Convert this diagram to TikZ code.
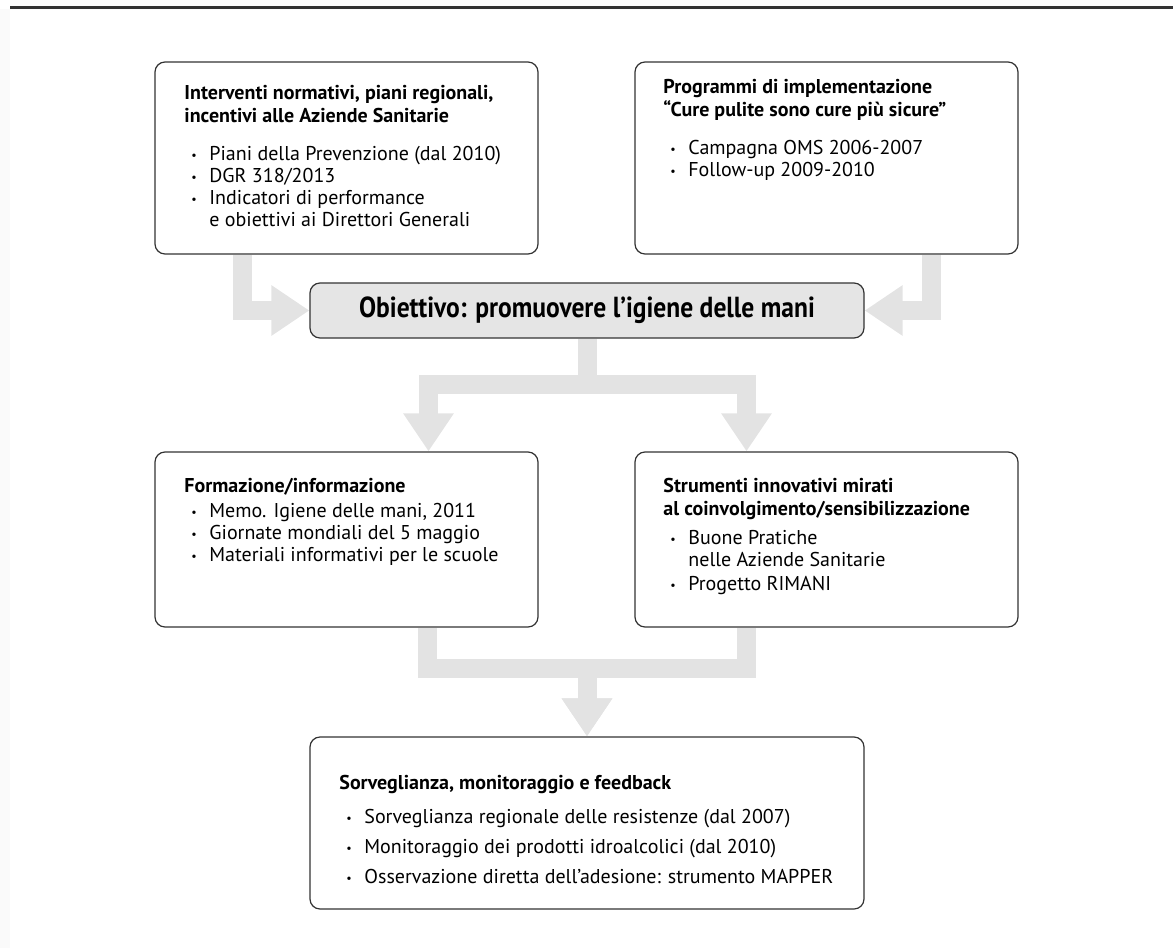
\documentclass[tikz,border=0pt]{standalone}
\usepackage{fontspec}
\setmainfont{PT Sans}
\newfontfamily\narrowbold[FakeStretch=0.88]{PT Sans Bold}
\usetikzlibrary{arrows.meta,backgrounds}

\newcommand{\voce}{\hspace*{3.5pt}\makebox[9pt][l]{\raisebox{0.6pt}{\fontsize{6}{6}\selectfont\textbullet}}}
\newcommand{\segue}{\hspace*{12.5pt}}

\begin{document}
\begin{tikzpicture}[x=0.5pt,y=-0.5pt]
  \tikzstyle{box}=[draw=black!80,line width=0.6pt,rounded corners=5pt,inner sep=0pt]
  \tikzstyle{txt}=[anchor=north west,align=left,inner sep=0pt,font=\fontsize{10}{11}\selectfont]
  \tikzstyle{flow}=[draw=black!11,line width=9.5pt,line join=miter,-{Triangle[width=24pt,length=19pt]}]
  \useasboundingbox (0,0) rectangle (1173,948);
  \fill[black!2] (0,9) rectangle (10,948);
  \draw[black!80,line width=1.5pt] (10,7) -- (1173,7);

  % riquadri
  \node[box,minimum width=191.5pt,minimum height=96pt] (leggi) at (346.5,158) {};
  \node[box,minimum width=191.5pt,minimum height=96pt] (programmi) at (826.5,158) {};
  \node[box,fill=black!10,minimum width=277pt,minimum height=27.5pt,
        font=\narrowbold\fontsize{14.5}{16}\selectfont] (obiettivo) at (587,310.5)
        {Obiettivo: promuovere l’igiene delle mani};
  \node[box,minimum width=191.5pt,minimum height=87.5pt] (formazione) at (346.5,539.5) {};
  \node[box,minimum width=191.5pt,minimum height=87.5pt] (strumenti) at (826.5,539.5) {};
  \node[box,minimum width=277pt,minimum height=86pt] (sorveglianza) at (587,823) {};

  % testi
  \node[txt] (leggi-t) at (184,85) {\textbf{Interventi normativi, piani regionali,}\\[0.5pt]
    \textbf{incentivi alle Aziende Sanitarie}\\[8pt]
    \voce Piani della Prevenzione (dal 2010)\\
    \voce DGR 318/2013\\
    \voce Indicatori di performance\\
    \segue e obiettivi ai Direttori Generali};
  \node[txt] (programmi-t) at (663,79) {\textbf{Programmi di implementazione}\\[0.5pt]
    \textbf{“Cure pulite sono cure più sicure”}\\[8pt]
    \voce Campagna OMS 2006-2007\\
    \voce Follow-up 2009-2010};
  \node[txt] (formazione-t) at (184,478) {\textbf{Formazione/informazione}\\[1.5pt]
    \voce Memo. Igiene delle mani, 2011\\
    \voce Giornate mondiali del 5 maggio\\
    \voce Materiali informativi per le scuole};
  \node[txt] (strumenti-t) at (663,478) {\textbf{Strumenti innovativi mirati}\\[0.5pt]
    \textbf{al coinvolgimento/sensibilizzazione}\\[3.5pt]
    \voce Buone Pratiche\\
    \segue nelle Aziende Sanitarie\\[1pt]
    \voce Progetto RIMANI};
  \node[txt] (sorveglianza-t) at (339,775) {\textbf{Sorveglianza, monitoraggio e feedback}\\[6pt]
    \voce Sorveglianza regionale delle resistenze (dal 2007)\\[4pt]
    \voce Monitoraggio dei prodotti idroalcolici (dal 2010)\\[4pt]
    \voce Osservazione diretta dell’adesione: strumento MAPPER};

  % frecce
  \coordinate (a1) at (242.5,0);
  \coordinate (a2) at (931,0);
  \coordinate (s1) at (428.5,384);
  \coordinate (s2) at (746.5,384);
  \coordinate (m1) at (427,668.5);
  \coordinate (m2) at (746,668.5);
  \begin{scope}[on background layer]
    \draw[flow] (leggi.south -| a1) |- (obiettivo.west);
    \draw[flow] (programmi.south -| a2) |- (obiettivo.east);
    \draw[flow] (obiettivo.south) |- (s1) -- (formazione.north -| s1);
    \draw[flow] (obiettivo.south) |- (s2) -- (strumenti.north -| s2);
    \draw[flow] (formazione.south -| m1) -- (m1) -| (sorveglianza.north);
    \draw[flow] (strumenti.south -| m2) -- (m2) -| (sorveglianza.north);
  \end{scope}
\end{tikzpicture}
\end{document}
